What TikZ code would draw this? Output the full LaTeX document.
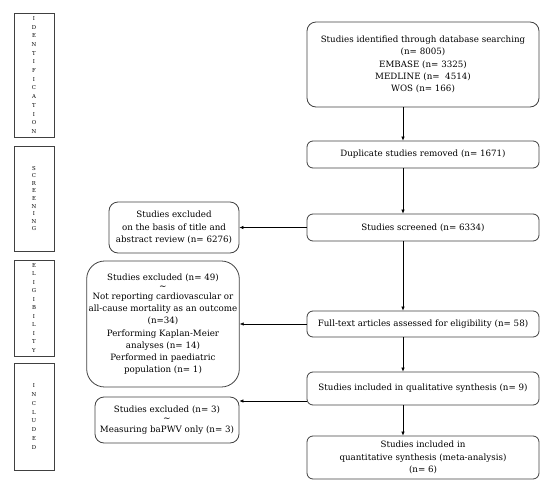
\documentclass[tikz,border=0pt]{standalone}
\usepackage{fontspec}
\setmainfont{DejaVu Serif}
\usetikzlibrary{arrows.meta}
\definecolor{edge}{HTML}{404040}
\tikzset{
  box/.style={draw=edge, line width=0.8pt, rounded corners=9pt, align=center, inner sep=2pt,
    font=\fontsize{8.7}{12.2}\selectfont, text=black},
  side/.style={draw=edge, line width=1pt, minimum width=40pt, align=center, inner sep=0pt,
    font=\fontsize{5.4}{8.7}\selectfont},
  arr/.style={draw=black, line width=0.6pt, -{Latex[length=4pt,width=3.5pt]}}
}
\newcommand{\tl}{\\[-3pt]{\small\textasciitilde}\\[-2pt]}
\begin{document}
\begin{tikzpicture}[x=1pt,y=-1pt]
\useasboundingbox (0,0) rectangle (550,493);
% sidebars
\node[side, minimum height=124pt] (sid) at (34,75) {I\\D\\E\\N\\T\\I\\F\\I\\C\\A\\T\\I\\O\\N};
\node[side, minimum height=105pt, font=\fontsize{5.4}{7.6}\selectfont] (ssc) at (34,198.5) {S\\C\\R\\E\\E\\N\\I\\N\\G};
\node[side, minimum height=96pt, font=\fontsize{5.4}{8.5}\selectfont] (sel) at (34,308) {E\\L\\I\\G\\I\\B\\I\\L\\I\\T\\Y};
\node[side, minimum height=107pt, font=\fontsize{5.4}{8.9}\selectfont] (sin) at (34,416.5) {I\\N\\C\\L\\U\\D\\E\\D};
% main column
\node[box, minimum width=232pt, minimum height=85pt] (top) at (423,64.5)
  {Studies identified through database searching\\(n= 8005)\\EMBASE (n= 3325)\\MEDLINE (n=\ \ 4514)\\WOS (n= 166)};
\node[box, minimum width=232pt, minimum height=27pt, rounded corners=6pt] (dup) at (423,154.5) {Duplicate studies removed (n= 1671)};
\node[box, minimum width=232pt, minimum height=27pt, rounded corners=6pt] (scr) at (423,227.5) {Studies screened (n= 6334)};
\node[box, minimum width=232pt, minimum height=26pt, rounded corners=6pt] (ful) at (423,324) {Full-text articles assessed for eligibility (n= 58)};
\node[box, minimum width=232pt, minimum height=33pt, rounded corners=6pt] (qua) at (423,388.5) {Studies included in qualitative synthesis (n= 9)};
\node[box, minimum width=232pt, minimum height=43pt, rounded corners=6pt] (qnt) at (423,457.5) {Studies included in\\quantitative synthesis (meta-analysis)\\(n= 6)};
% exclusion boxes
\node[box, minimum width=130pt, minimum height=51pt] (ex1) at (174,227.5) {Studies excluded\\on the basis of title and\\abstract review (n= 6276)};
\node[box, minimum width=152pt, minimum height=126pt, rounded corners=18pt] (ex2) at (163,324)
  {Studies excluded (n= 49)\tl Not reporting cardiovascular or\\all-cause mortality as an outcome\\(n=34)\\Performing Kaplan-Meier\\analyses (n= 14)\\Performed in paediatric\\population (n= 1)};
\node[box, minimum width=144pt, minimum height=46pt] (ex3) at (167,420) {Studies excluded (n= 3)\tl Measuring baPWV only (n= 3)};
% connectors
\coordinate (ax) at (403,0);
\draw[arr] (top.south -| ax) -- (dup.north -| ax);
\draw[arr] (dup.south -| ax) -- (scr.north -| ax);
\draw[arr] (scr.south -| ax) -- (ful.north -| ax);
\draw[arr] (ful.south -| ax) -- (qua.north -| ax);
\draw[arr] (qua.south -| ax) -- (qnt.north -| ax);
\draw[arr] (scr.west) -- (ex1.east);
\draw[arr] (ful.west) -- (ex2.east);
\coordinate (q3) at ([yshift=-12.5pt]qua.west);
\draw[arr] (q3) -- (ex3.east |- q3);
\end{tikzpicture}
\end{document}
